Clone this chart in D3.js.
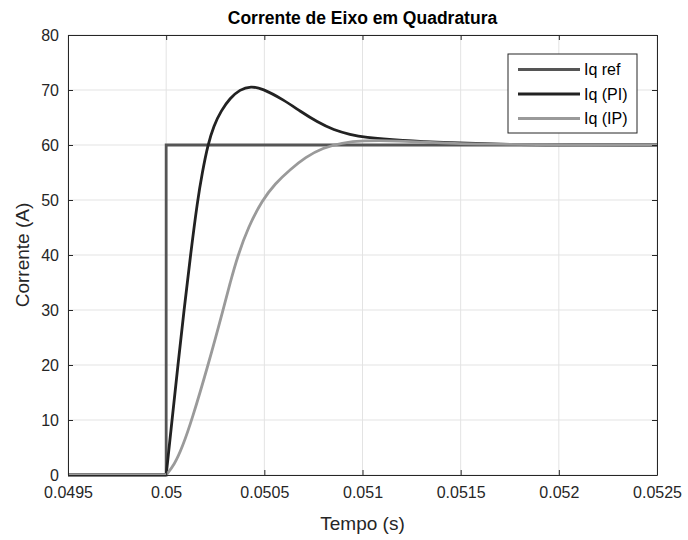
<!DOCTYPE html>
<html>
<head>
<meta charset="utf-8">
<script src="https://cdn.jsdelivr.net/npm/d3@7"></script>
<style>
  body { margin: 0; background: #fff; }
  text { font-family: "Liberation Sans", Arial, sans-serif; fill: #262626; }
</style>
</head>
<body>
<div id="chart"></div>
<script>
// data (time in s, current in A)
var refT = [0.0495, 0.05, 0.05, 0.0525];
var refI = [0, 0, 60, 60];

var piT = [0.0495, 0.05, 0.05003, 0.05006, 0.050091, 0.050124, 0.05016, 0.050184, 0.050212, 0.050242, 0.050281, 0.050325, 0.050375, 0.050432,
           0.050488, 0.050599, 0.050684, 0.050769, 0.050854, 0.050939, 0.051005, 0.051194, 0.051449, 0.051704, 0.051959, 0.0525];
var piI = [0, 0, 10, 20, 30, 40, 50, 55, 60, 63.5, 66.3, 68.5, 70.1, 70.7,
           70.3, 68.2, 66.1, 64.2, 62.7, 61.9, 61.4, 60.8, 60.4, 60.1, 60.0, 60.0];

var ipT = [0.0495, 0.05, 0.050041, 0.050082, 0.050131, 0.050214, 0.05029, 0.050326, 0.050366, 0.050417, 0.05049, 0.050555, 0.05063, 0.05071,
           0.050798, 0.050895, 0.051, 0.051173, 0.051429, 0.051735, 0.052041, 0.0525];
var ipI = [0, 0, 1.8, 5, 10, 20, 30, 35, 40, 45, 50, 53, 55.5, 57.8,
           59.5, 60.4, 60.8, 60.8, 60.3, 60.1, 60.0, 60.0];

var xTicks = [0.0495, 0.05, 0.0505, 0.051, 0.0515, 0.052, 0.0525];
var yTicks = [0, 10, 20, 30, 40, 50, 60, 70, 80];

var series = [
  {name: "Iq ref", t: refT, v: refI, color: "#555555"},
  {name: "Iq (PI)", t: piT, v: piI, color: "#222222"},
  {name: "Iq (IP)", t: ipT, v: ipI, color: "#9a9a9a"}
];

var margin = {top: 35, right: 31, bottom: 65, left: 68},
    width = 688 - margin.left - margin.right,
    height = 540 - margin.top - margin.bottom;

var x = d3.scaleLinear().domain([0.0495, 0.0525]).range([0, width]);
var y = d3.scaleLinear().domain([0, 80]).range([height, 0]);

var svg = d3.select("#chart").append("svg")
    .attr("width", 688)
    .attr("height", 540);

var g = svg.append("g")
    .attr("transform", "translate(" + margin.left + "," + margin.top + ")");

// grid
g.selectAll(".vgrid").data(xTicks).enter().append("line")
    .attr("x1", function(d) { return x(d); })
    .attr("x2", function(d) { return x(d); })
    .attr("y1", 0).attr("y2", height)
    .style("stroke", "#e3e3e3").style("stroke-width", 1);
g.selectAll(".hgrid").data(yTicks).enter().append("line")
    .attr("y1", function(d) { return y(d); })
    .attr("y2", function(d) { return y(d); })
    .attr("x1", 0).attr("x2", width)
    .style("stroke", "#e3e3e3").style("stroke-width", 1);

// lines: flat part before the step is straight, response part is smoothed
var line = d3.line()
    .x(function(d) { return x(d[0]); })
    .y(function(d) { return y(d[1]); });

series.forEach(function(s) {
  var pts = s.t.map(function(t, i) { return [t, s.v[i]]; });
  if (s.name == "Iq ref") {
    line.curve(d3.curveLinear);
  } else {
    pts = pts.slice(1);
    line.curve(d3.curveBasis);
    g.append("line")
        .attr("x1", x(s.t[0])).attr("x2", x(s.t[1]))
        .attr("y1", y(s.v[0])).attr("y2", y(s.v[1]))
        .style("stroke", s.color).style("stroke-width", 2.8);
  }
  g.append("path")
      .datum(pts)
      .attr("fill", "none")
      .attr("stroke", s.color)
      .attr("stroke-width", 2.8)
      .attr("d", line);
});

// axes (ticks pointing inward, box on all sides)
var fmt = function(d) { return d3.format("")(+d.toFixed(4)); };
var xAxis = g.append("g").attr("transform", "translate(0," + height + ")")
    .call(d3.axisBottom(x).tickValues(xTicks).tickSizeInner(-5).tickSizeOuter(0).tickPadding(12).tickFormat(fmt));
var xTop = g.append("g")
    .call(d3.axisTop(x).tickValues(xTicks).tickSizeInner(-5).tickSizeOuter(0).tickFormat(""));
var yAxis = g.append("g")
    .call(d3.axisLeft(y).tickValues(yTicks).tickSizeInner(-5).tickSizeOuter(0).tickPadding(9));
var yRight = g.append("g").attr("transform", "translate(" + width + ",0)")
    .call(d3.axisRight(y).tickValues(yTicks).tickSizeInner(-5).tickSizeOuter(0).tickFormat(""));

[xAxis, xTop, yAxis, yRight].forEach(function(a) {
  a.selectAll("path").style("stroke", "#262626").style("stroke-width", 1);
  a.selectAll("line").style("stroke", "#262626");
  a.selectAll("text").style("font-size", "16px").style("fill", "#262626");
});

// title and labels
svg.append("text")
    .attr("x", margin.left + width / 2)
    .attr("y", 24)
    .attr("text-anchor", "middle")
    .style("font-size", "17.5px")
    .style("font-weight", "bold")
    .style("fill", "#000")
    .text("Corrente de Eixo em Quadratura");

svg.append("text")
    .attr("x", margin.left + width / 2)
    .attr("y", 530)
    .attr("text-anchor", "middle")
    .style("font-size", "19px")
    .text("Tempo (s)");

svg.append("text")
    .attr("transform", "translate(29," + (margin.top + height / 2) + ") rotate(-90)")
    .attr("text-anchor", "middle")
    .style("font-size", "19px")
    .text("Corrente (A)");

// legend
var lg = svg.append("g").attr("transform", "translate(508,54)");
lg.append("rect")
    .attr("width", 129).attr("height", 79)
    .style("fill", "#fff").style("stroke", "#262626").style("stroke-width", 1);
series.forEach(function(s, i) {
  var yy = 15.5 + i * 24.5;
  lg.append("line")
      .attr("x1", 10).attr("x2", 72)
      .attr("y1", yy).attr("y2", yy)
      .style("stroke", s.color).style("stroke-width", 2.8);
  lg.append("text")
      .attr("x", 76).attr("y", yy + 5.5)
      .style("font-size", "16px")
      .style("fill", "#000")
      .text(s.name);
});
</script>
</body>
</html>
